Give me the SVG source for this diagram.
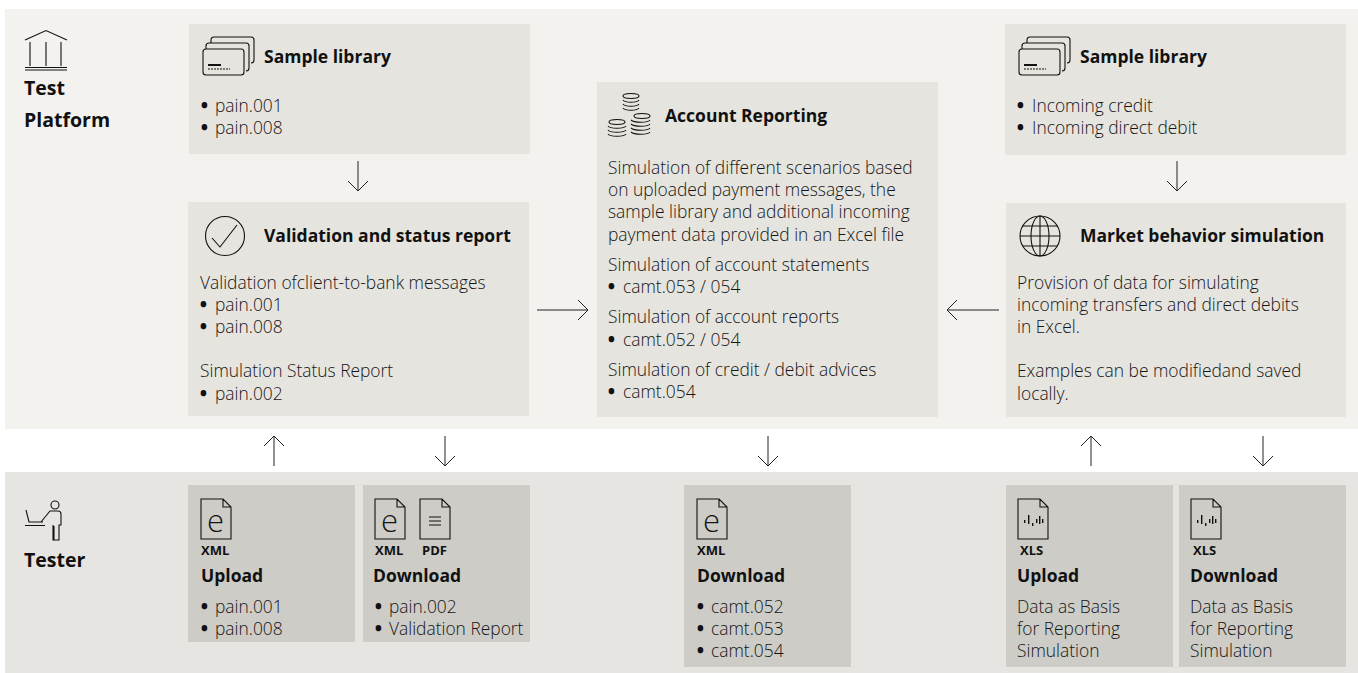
<svg xmlns="http://www.w3.org/2000/svg" xmlns:xlink="http://www.w3.org/1999/xlink" width="1358" height="673" viewBox="0 0 1358 673">
<style>
text{font-family:"Open Sans","Noto Sans","Liberation Sans",sans-serif;fill:#151515;font-size:17.400px;font-weight:300}
.b{font-weight:800;fill:#111}
.h{font-weight:700;font-size:17.500px;fill:#111}
.t{font-weight:700;font-size:19.500px;fill:#111}
.x{font-weight:700;font-size:13px;fill:#111}
.e{font-size:31px}
.box{fill:#e6e4de}.dl{fill:#cdccc6}
.i{fill:none;stroke:#111;stroke-width:1.1}
.c{fill:none;stroke:#222;stroke-width:1}
</style>
<defs>
<g id="cards" class="i"><path d="M3 6V3a3 3 0 0 1 3-3H43a3 3 0 0 1 3 3V23a3 3 0 0 1-3 3"/><path d="M-2 12V9a3 3 0 0 1 3-3H38a3 3 0 0 1 3 3V31a3 3 0 0 1-3 3"/><rect x="-5" y="12" width="41" height="26" rx="3"/><path d="M0 28h13" stroke-width="2"/><path d="M0 32h22" stroke-dasharray="2 1"/></g>
<g id="doc" class="i"><path d="M0 0h22l8 8v32H0zM22 0v8h8"/></g>
<g id="bars" fill="#111"><rect x="6" y="21" width="1.400" height="3"/><rect x="10" y="16" width="1.400" height="9"/><rect x="14" y="24" width="1.400" height="3"/><rect x="18" y="20" width="1.400" height="4"/><rect x="21" y="17" width="1.400" height="8"/><rect x="24" y="20" width="1.400" height="4"/></g>
</defs>
<rect width="1358" height="673" fill="#fff"/>
<rect id="panel-platform" x="5" y="9" width="1353" height="420" fill="#f3f2ee"/>
<rect id="panel-tester" x="5" y="472" width="1353" height="201" fill="#e6e5e2"/>

<g id="platform-label">
<path class="i" d="M25 40 46 30.500 67 40M30 42V66M46 42V66M61 42V66" stroke-width="1.300"/><path class="i" d="M25 67.500H67M25 70H67"/>
<text class="t" x="24" y="95">Test</text><text class="t" x="24" y="127">Platform</text>
</g>
<g id="tester-label">
<path class="i" d="M26 510l3 12h14M25 525.500H45M41 522l9-11h8a3 3 0 0 1 3 3v11h-2v15h-6v-15M54 526v14"/><circle class="i" cx="55" cy="505" r="4"/>
<text class="t" x="24" y="567">Tester</text>
</g>

<g id="sample-library-left">
<rect class="box" x="189" y="24" width="341" height="130"/>
<use href="#cards" xlink:href="#cards" x="208" y="37"/>
<text class="h" x="264" y="63">Sample library</text>
<text x="201" y="112"><tspan class="b">•</tspan><tspan x="215">pain.001</tspan></text><text x="201" y="134"><tspan class="b">•</tspan><tspan x="215">pain.008</tspan></text>
</g>
<g id="validation">
<rect class="box" x="188" y="202" width="341" height="214"/>
<circle class="i" cx="225" cy="236" r="19.500"/><path class="i" d="M212 238l8 9 17-22"/>
<text class="h" x="264" y="242">Validation and status report</text>
<text x="200" y="289">Validation ofclient-to-bank messages</text>
<text x="200" y="311"><tspan class="b">•</tspan><tspan x="215">pain.001</tspan></text><text x="200" y="333"><tspan class="b">•</tspan><tspan x="215">pain.008</tspan></text>
<text x="200" y="377">Simulation Status Report</text><text x="200" y="400"><tspan class="b">•</tspan><tspan x="215">pain.002</tspan></text>
</g>
<g id="account-reporting">
<rect class="box" x="597" y="82" width="341" height="335"/>
<g class="i" stroke-width=".9">
<ellipse cx="631" cy="96" rx="8" ry="2.500"/><path d="M623 100c2 3 14 3 16 0M623 104c2 3 14 3 16 0M623 108c2 3 14 3 16 0"/>
<ellipse cx="642" cy="116" rx="8" ry="2.500"/><path d="M631 120c3 3 17 3 19 0M631 124c3 3 17 3 19 0M631 128c3 3 17 3 19 0M631 132c3 3 17 3 19 0"/>
<ellipse cx="617" cy="122" rx="8" ry="2.500"/><path d="M608 126c2 3 16 3 18 0M608 130c2 3 16 3 18 0M608 134c2 3 16 3 18 0"/>
</g>
<text class="h" x="665" y="122">Account Reporting</text>
<text x="608" y="174">Simulation of different scenarios based</text>
<text x="608" y="196">on uploaded payment messages, the</text>
<text x="608" y="218">sample library and additional incoming</text>
<text x="608" y="241">payment data provided in an Excel file</text>
<text x="608" y="271">Simulation of account statements</text>
<text x="608" y="293"><tspan class="b">•</tspan><tspan x="623">camt.053 / 054</tspan></text>
<text x="608" y="323">Simulation of account reports</text>
<text x="608" y="346"><tspan class="b">•</tspan><tspan x="623">camt.052 / 054</tspan></text>
<text x="608" y="376">Simulation of credit / debit advices</text>
<text x="608" y="398"><tspan class="b">•</tspan><tspan x="623">camt.054</tspan></text>
</g>
<g id="sample-library-right">
<rect class="box" x="1005" y="24" width="341" height="131"/>
<use href="#cards" xlink:href="#cards" x="1024" y="37"/>
<text class="h" x="1080" y="63">Sample library</text>
<text x="1017" y="112"><tspan class="b">•</tspan><tspan x="1032">Incoming credit</tspan></text><text x="1017" y="134"><tspan class="b">•</tspan><tspan x="1032">Incoming direct debit</tspan></text>
</g>
<g id="market-simulation">
<rect class="box" x="1006" y="203" width="340" height="214"/>
<circle class="i" cx="1040" cy="236" r="20"/><ellipse class="i" cx="1040" cy="236" rx="9" ry="20"/><path class="i" d="M1040 216v40M1020 236h40M1023 226h34M1023 246h34"/>
<text class="h" x="1080" y="242">Market behavior simulation</text>
<text x="1017" y="289">Provision of data for simulating</text>
<text x="1017" y="311">incoming transfers and direct debits</text>
<text x="1017" y="333">in Excel.</text>
<text x="1017" y="377">Examples can be modifiedand saved</text>
<text x="1017" y="400">locally.</text>
</g>

<g id="upload-xml">
<rect class="dl" x="188" y="485" width="167" height="157"/>
<use href="#doc" xlink:href="#doc" x="201" y="499"/><text class="e" x="207" y="532">e</text>
<text class="x" x="201" y="555">XML</text>
<text class="h" x="201" y="582">Upload</text>
<text x="201" y="613"><tspan class="b">•</tspan><tspan x="215">pain.001</tspan></text><text x="201" y="635"><tspan class="b">•</tspan><tspan x="215">pain.008</tspan></text>
</g>
<g id="download-xml-pdf">
<rect class="dl" x="363" y="485" width="167" height="157"/>
<use href="#doc" xlink:href="#doc" x="375" y="499"/><text class="e" x="381" y="532">e</text>
<use href="#doc" xlink:href="#doc" x="420" y="499"/><path class="i" stroke-width="1.500" d="M429 517h12M429 521h12M429 525h12"/>
<text class="x" x="375" y="555">XML</text><text class="x" x="422" y="555">PDF</text>
<text class="h" x="373" y="582">Download</text>
<text x="375" y="613"><tspan class="b">•</tspan><tspan x="389">pain.002</tspan></text><text x="375" y="635"><tspan class="b">•</tspan><tspan x="389">Validation Report</tspan></text>
</g>
<g id="download-camt">
<rect class="dl" x="684" y="485" width="167" height="182"/>
<use href="#doc" xlink:href="#doc" x="697" y="499"/><text class="e" x="703" y="532">e</text>
<text class="x" x="697" y="555">XML</text>
<text class="h" x="697" y="582">Download</text>
<text x="697" y="613"><tspan class="b">•</tspan><tspan x="711">camt.052</tspan></text><text x="697" y="635"><tspan class="b">•</tspan><tspan x="711">camt.053</tspan></text><text x="697" y="657"><tspan class="b">•</tspan><tspan x="711">camt.054</tspan></text>
</g>
<g id="upload-xls">
<rect class="dl" x="1006" y="485" width="167" height="182"/>
<use href="#doc" xlink:href="#doc" x="1018" y="499"/><use href="#bars" xlink:href="#bars" x="1018" y="499"/>
<text class="x" x="1020" y="555">XLS</text>
<text class="h" x="1017" y="582">Upload</text>
<text x="1017" y="613">Data as Basis</text><text x="1017" y="635">for Reporting</text><text x="1017" y="657">Simulation</text>
</g>
<g id="download-xls">
<rect class="dl" x="1179" y="485" width="167" height="182"/>
<use href="#doc" xlink:href="#doc" x="1191" y="499"/><use href="#bars" xlink:href="#bars" x="1191" y="499"/>
<text class="x" x="1193" y="555">XLS</text>
<text class="h" x="1190" y="582">Download</text>
<text x="1190" y="613">Data as Basis</text><text x="1190" y="635">for Reporting</text><text x="1190" y="657">Simulation</text>
</g>

<g id="connectors" class="c">
<path d="M358 161V191M348 181l10 10 10-10"/>
<path d="M1177 161V191M1167 181l10 10 10-10"/>
<path d="M537 310H588M578 300l10 10-10 10"/>
<path d="M999 310H947M957 300l-10 10 10 10"/>
<path d="M274 466V436M264 446l10-10 10 10"/>
<path d="M445 436V466M435 456l10 10 10-10"/>
<path d="M768 436V466M758 456l10 10 10-10"/>
<path d="M1091 466V436M1081 446l10-10 10 10"/>
<path d="M1263 436V466M1253 456l10 10 10-10"/>
</g>
</svg>
